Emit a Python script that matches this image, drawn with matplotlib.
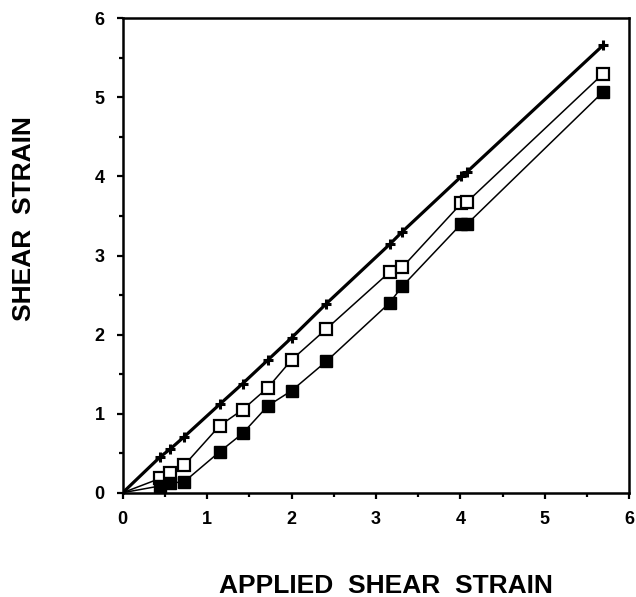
import matplotlib
matplotlib.use("Agg")
import matplotlib.pyplot as plt
from matplotlib.ticker import MultipleLocator

# applied shear strain (same for all three series)
applied = [0.44, 0.56, 0.73, 1.15, 1.42, 1.72, 2.00, 2.41, 3.16, 3.31, 4.01, 4.08, 5.69]
# measured shear strain, three series
plus_y = [0.45, 0.55, 0.71, 1.12, 1.38, 1.68, 1.96, 2.39, 3.14, 3.30, 4.00, 4.06, 5.66]
open_y = [0.18, 0.245, 0.35, 0.85, 1.05, 1.33, 1.68, 2.07, 2.79, 2.85, 3.66, 3.68, 5.30]
filled_y = [0.085, 0.12, 0.14, 0.52, 0.75, 1.10, 1.29, 1.66, 2.40, 2.61, 3.40, 3.40, 5.07]

FONT = ["Liberation Sans Narrow", "Liberation Sans", "DejaVu Sans"]

fig = plt.figure(figsize=(6.36, 5.97), dpi=100)
ax = fig.add_axes([0.193, 0.1747, 0.7965, 0.7946])

# fitted curves start at the origin
cx = [0.0] + applied
ax.plot(cx, [0.0] + plus_y, color="black", lw=2.3, zorder=2)
ax.plot(cx, [0.0] + open_y, color="black", lw=1.1, zorder=2)
ax.plot(cx, [0.0] + filled_y, color="black", lw=1.1, zorder=2)

ax.plot(applied, plus_y, ls="none", marker="+", ms=7, mew=2.2, color="black", zorder=3)
ax.plot(applied, open_y, ls="none", marker="s", ms=8.5, mew=1.6,
        mfc="white", mec="black", zorder=3)
ax.plot(applied, filled_y, ls="none", marker="s", ms=8, mew=1.0,
        mfc="black", mec="black", zorder=3)

ax.set_xlim(0, 6)
ax.set_ylim(0, 6)
ax.xaxis.set_major_locator(MultipleLocator(1))
ax.yaxis.set_major_locator(MultipleLocator(1))
ax.xaxis.set_minor_locator(MultipleLocator(0.5))
ax.yaxis.set_minor_locator(MultipleLocator(0.5))
ax.tick_params(which="both", direction="out", width=1.6, top=False, right=False)
ax.tick_params(which="major", length=4, pad=9)
ax.tick_params(which="minor", length=3)
for sp in ax.spines.values():
    sp.set_linewidth(1.8)
for lab in ax.get_xticklabels() + ax.get_yticklabels():
    lab.set_family(FONT)
    lab.set_fontweight("bold")
    lab.set_fontsize(13)

fig.text(386 / 636, 1 - 586 / 597, "APPLIED  SHEAR  STRAIN", ha="center", va="center",
         family=FONT, fontweight="bold", fontsize=19)
fig.text(24 / 636, 1 - 219 / 597, "SHEAR  STRAIN", ha="center", va="center",
         rotation=90, family=FONT, fontweight="bold", fontsize=19)

fig.savefig("out.png", dpi=100)
